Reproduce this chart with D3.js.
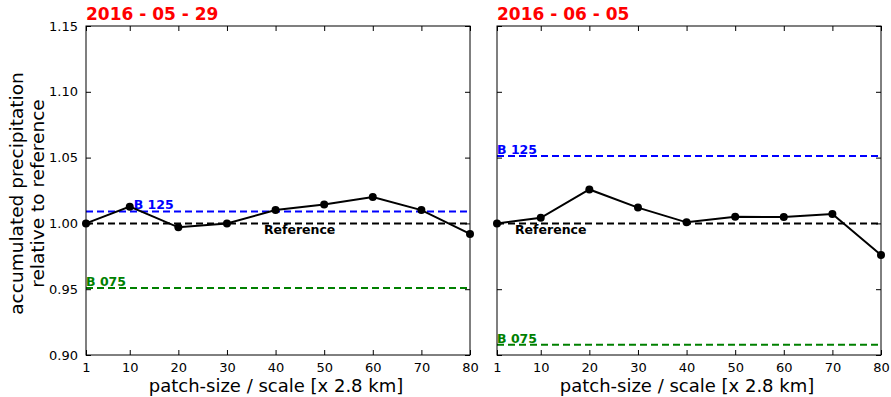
<!DOCTYPE html>
<html>
<head>
<meta charset="utf-8">
<script src="https://cdn.jsdelivr.net/npm/d3@7"></script>
<style>
  body { margin: 0; background: #fff; }
  svg { font-family: "DejaVu Sans", sans-serif; }
</style>
</head>
<body>
<svg id="canvas" width="891" height="397"></svg>
<script>
// data
const scales = [1, 10, 20, 30, 40, 50, 60, 70, 80];
const titles = ['2016 - 05 - 29', '2016 - 06 - 05'];
const values0529 = [1.000, 1.0127, 0.997, 1.000, 1.0101, 1.0144, 1.020, 1.0101, 0.992];
const values0605 = [1.000, 1.0043, 1.0258, 1.012, 1.0008, 1.0051, 1.0048, 1.0071, 0.976];
const b125 = [1.0091, 1.0513];
const b075 = [0.951, 0.9078];
const refLabelX = [37.6, 4.7];
const xTicks = [1, 10, 20, 30, 40, 50, 60, 70, 80];
const yTicks = [0.90, 0.95, 1.00, 1.05, 1.10, 1.15];

const svg = d3.select('#canvas');
const plotTop = 26, plotBottom = 355, w = 384;
const lefts = [86, 497];
const series = [values0529, values0605];

const y = d3.scaleLinear().domain([0.90, 1.15]).range([plotBottom, plotTop]);

lefts.forEach((left, p) => {
    const x = d3.scaleLinear().domain([1, 80]).range([left, left + w]);
    const g = svg.append('g');

    // reference lines
    const hline = (val, color) => g.append('line')
        .attr('x1', left).attr('x2', left + w)
        .attr('y1', y(val)).attr('y2', y(val))
        .attr('stroke', color).attr('stroke-width', 2)
        .attr('stroke-dasharray', '7,4');
    hline(1.0, '#000');
    hline(b125[p], '#0000ff');
    hline(b075[p], '#008000');

    // labels on the lines
    g.append('text').attr('x', p === 0 ? x(10) + 4 : left).attr('y', y(b125[p]) - 2)
        .attr('fill', '#0000ff').attr('font-weight', 'bold').attr('font-size', 12.5).text('B 125');
    g.append('text').attr('x', left).attr('y', y(b075[p]) - 2)
        .attr('fill', '#008000').attr('font-weight', 'bold').attr('font-size', 12.5).text('B 075');
    g.append('text').attr('x', x(refLabelX[p])).attr('y', y(1.0) + 11)
        .attr('fill', '#000').attr('font-weight', 'bold').attr('font-size', 12.5).text('Reference');

    // data line
    const line = d3.line().x((d, i) => x(scales[i])).y(d => y(d));
    g.append('path').datum(series[p])
        .attr('d', line).attr('fill', 'none')
        .attr('stroke', '#000').attr('stroke-width', 2);
    g.selectAll('circle').data(series[p]).enter().append('circle')
        .attr('cx', (d, i) => x(scales[i])).attr('cy', d => y(d))
        .attr('r', 4).attr('fill', '#000');

    // frame
    g.append('rect').attr('x', left).attr('y', plotTop).attr('width', w).attr('height', plotBottom - plotTop)
        .attr('fill', 'none').attr('stroke', '#000').attr('stroke-width', 1);

    // axes with inward ticks
    const ax = (axis, tx, ty) => {
        const a = g.append('g').attr('transform', `translate(${tx},${ty})`).call(axis);
        a.select('.domain').remove();
        a.selectAll('text').attr('font-family', '"DejaVu Sans", sans-serif').attr('font-size', 13).attr('fill', '#000');
        return a;
    };
    ax(d3.axisBottom(x).tickValues(xTicks).tickFormat(d3.format('d')).tickSizeInner(-5).tickPadding(8), 0, plotBottom);
    ax(d3.axisTop(x).tickValues(xTicks).tickFormat('').tickSizeInner(-5), 0, plotTop);
    const yAx = ax(d3.axisLeft(y).tickValues(yTicks).tickFormat(d3.format('.2f')).tickSizeInner(-5).tickPadding(8), left, 0);
    if (p === 1) yAx.selectAll('text').remove();
    ax(d3.axisRight(y).tickValues(yTicks).tickFormat('').tickSizeInner(-5), left + w, 0);

    // title
    svg.append('text').attr('x', left).attr('y', 20)
        .attr('fill', '#ff0000').attr('font-weight', 'bold').attr('font-size', 17).text(titles[p]);

    // x label
    svg.append('text').attr('x', left + w / 2 - 2).attr('y', 392)
        .attr('text-anchor', 'middle').attr('font-size', 18).text('patch-size / scale [x 2.8 km]');
});

// y label
const yLabel = svg.append('text').attr('transform', `translate(23,${(plotTop + plotBottom) / 2 + 3}) rotate(-90)`)
    .attr('text-anchor', 'middle').attr('font-size', 18.5);
yLabel.append('tspan').attr('x', 0).attr('dy', 0).text('accumulated precipitation');
yLabel.append('tspan').attr('x', 0).attr('dy', 21).text('relative to reference');
</script>
</body>
</html>
